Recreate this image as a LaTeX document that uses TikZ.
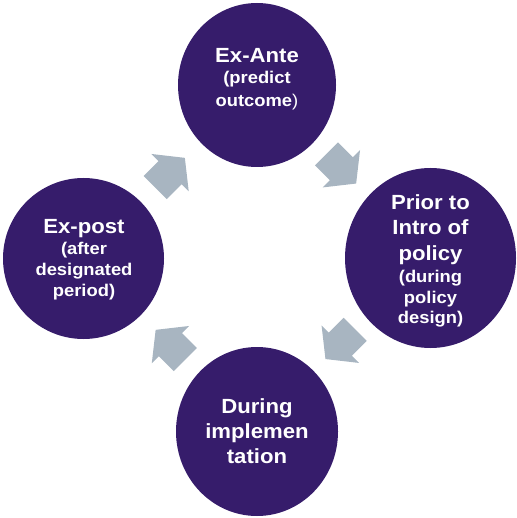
\documentclass[tikz,border=0pt]{standalone}
\usepackage{fontspec}
\setmainfont{Liberation Sans}[FakeStretch=1.08]
\usetikzlibrary{shapes.geometric}
\definecolor{stagepurple}{HTML}{361C6B}
\definecolor{arrowgrey}{HTML}{A8B5C1}
\tikzset{
  stage/.style={ellipse, fill=stagepurple, draw=none, inner sep=0pt},
  stagetext/.style={text=white, align=center, inner sep=0pt, anchor=north,
    font=\bfseries\fontsize{20.5}{21}\selectfont},
  blockarrow/.style={fill=arrowgrey, draw=none}
}
\newcommand{\smalltxt}{\fontsize{17}{21}\selectfont}
\begin{document}
\begin{tikzpicture}[x=1pt,y=-1pt]
\useasboundingbox (0,0) rectangle (516,518);
% circles
\node[stage, minimum width=158pt, minimum height=164pt] (top) at (257,85) {};
\node[stage, minimum width=171pt, minimum height=180pt] (right) at (430.5,258) {};
\node[stage, minimum width=162pt, minimum height=169pt] (bottom) at (257,431.5) {};
\node[stage, minimum width=161pt, minimum height=161pt] (left) at (83.5,258.5) {};
% texts
\node[stagetext] (toptext) at (257,47.8) {Ex-Ante\\{\smalltxt (predict}\\[2pt]{\smalltxt outcome{\mdseries )}}};
\node[stagetext] (righttext) at (430.5,194.4) {Prior to\\[4pt]Intro of\\[5pt]policy\\[1pt]{\smalltxt (during}\\{\smalltxt policy}\\[-1pt]{\smalltxt design)}};
\node[stagetext] (bottomtext) at (257,398.4) {During\\[4pt]implemen\\[4.5pt]tation};
\node[stagetext] (lefttext) at (84,219.4) {Ex-post\\{\smalltxt (after}\\{\smalltxt designated}\\{\smalltxt period)}};
% block arrows
\foreach \cx/\cy/\ang in {170/172.7/45, 341.3/168.7/-45, 340.3/344.2/-135, 170.5/344.7/135}{
  \fill[blockarrow, shift={(\cx,\cy)}, rotate=\ang]
    (-21,-16.3) -- (0,-16.3) -- (0,-26.5) -- (21,0) -- (0,26.5) -- (0,16.3) -- (-21,16.3) -- cycle;
}
\end{tikzpicture}
\end{document}
